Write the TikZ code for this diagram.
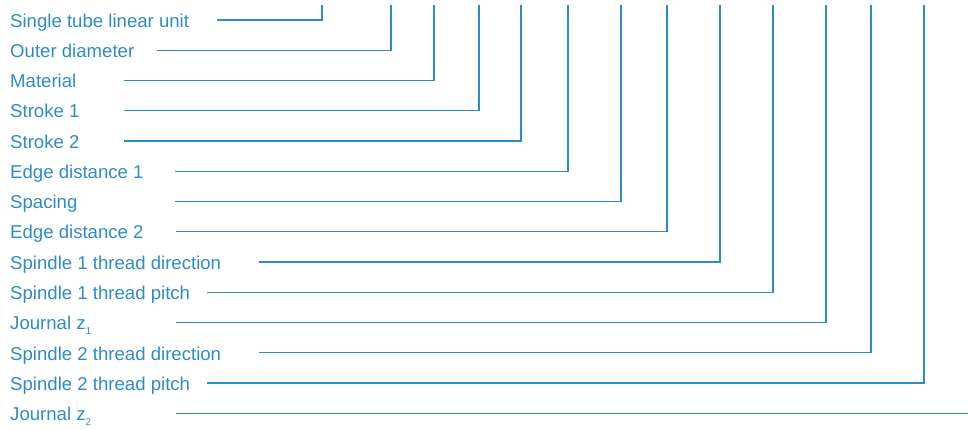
\documentclass[tikz,border=0pt]{standalone}
\usepackage{fontspec}
\setmainfont{Liberation Sans}
\usepackage{tikz}
\usetikzlibrary{positioning}
\definecolor{LeadBlue}{HTML}{2E8BC9}
\newcommand{\sub}[1]{\raisebox{-5pt}{\fontsize{10}{10}\selectfont #1}}

\begin{document}
\begin{tikzpicture}[x=1pt, y=-1pt,
    lbl/.style={anchor=base west, inner sep=0pt, text=LeadBlue, font=\fontsize{18.6}{20}\selectfont},
    lead/.style={draw=LeadBlue, line width=1.2pt}]
      \useasboundingbox (0,0) rectangle (968,430);
      \node[lbl] (unit)    at (10,27.3)  {Single tube linear unit};
      \node[lbl] (diam)    at (10,57.5)  {Outer diameter};
      \node[lbl] (mat)     at (10,87.8)  {Material};
      \node[lbl] (stroke1) at (10,118)   {Stroke 1};
      \node[lbl] (stroke2) at (10,148.3) {Stroke 2};
      \node[lbl] (edge1)   at (10,178.5) {Edge distance 1};
      \node[lbl] (spacing) at (10,208.8) {Spacing};
      \node[lbl] (edge2)   at (10,239)   {Edge distance 2};
      \node[lbl] (dir1)    at (10,269.3) {Spindle 1 thread direction};
      \node[lbl] (pitch1)  at (10,299.5) {Spindle 1 thread pitch};
      \node[lbl] (jz1)     at (10,329.8) {Journal z\sub{1}};
      \node[lbl] (dir2)    at (10,360)   {Spindle 2 thread direction};
      \node[lbl] (pitch2)  at (10,390.3) {Spindle 2 thread pitch};
      \node[lbl] (jz2)     at (10,420.5) {Journal z\sub{2}};
      \coordinate (unit-s)    at (217,20);    \coordinate (unit-t)    at (322,5);
      \coordinate (diam-s)    at (157,50.3);  \coordinate (diam-t)    at (391,5);
      \coordinate (mat-s)     at (124,80.5);  \coordinate (mat-t)     at (434,5);
      \coordinate (stroke1-s) at (124,110.8); \coordinate (stroke1-t) at (479,5);
      \coordinate (stroke2-s) at (124,141);   \coordinate (stroke2-t) at (521,5);
      \coordinate (edge1-s)   at (175,171.3); \coordinate (edge1-t)   at (568,5);
      \coordinate (spacing-s) at (175,201.5); \coordinate (spacing-t) at (621,5);
      \coordinate (edge2-s)   at (176,231.8); \coordinate (edge2-t)   at (667,5);
      \coordinate (dir1-s)    at (259,262);   \coordinate (dir1-t)    at (720,5);
      \coordinate (pitch1-s)  at (207,292.3); \coordinate (pitch1-t)  at (773,5);
      \coordinate (jz1-s)     at (176,322.5); \coordinate (jz1-t)     at (826,5);
      \coordinate (dir2-s)    at (259,352.8); \coordinate (dir2-t)    at (871,5);
      \coordinate (pitch2-s)  at (207,383);   \coordinate (pitch2-t)  at (924,5);
      \coordinate (jz2-s)     at (176,413.3); \coordinate (jz2-t)     at (968,413.3);
      \draw[lead] (unit-s) -| (unit-t);
      \draw[lead] (diam-s) -| (diam-t);
      \draw[lead] (mat-s) -| (mat-t);
      \draw[lead] (stroke1-s) -| (stroke1-t);
      \draw[lead] (stroke2-s) -| (stroke2-t);
      \draw[lead] (edge1-s) -| (edge1-t);
      \draw[lead] (spacing-s) -| (spacing-t);
      \draw[lead] (edge2-s) -| (edge2-t);
      \draw[lead] (dir1-s) -| (dir1-t);
      \draw[lead] (pitch1-s) -| (pitch1-t);
      \draw[lead] (jz1-s) -| (jz1-t);
      \draw[lead] (dir2-s) -| (dir2-t);
      \draw[lead] (pitch2-s) -| (pitch2-t);
      \draw[lead] (jz2-s) -- (jz2-t);
    \end{tikzpicture}
\end{document}
